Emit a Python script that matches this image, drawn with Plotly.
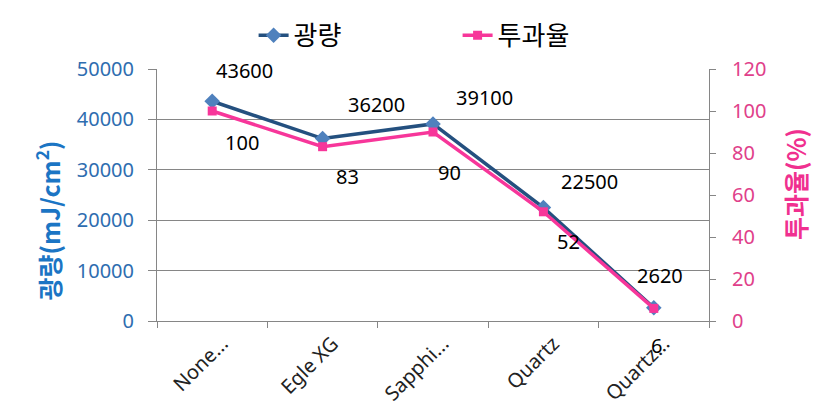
import plotly.graph_objects as go

categories = ["None...", "Egle XG", "Sapphi...", "Quartz", "Quartz..."]
light = [43600, 36200, 39100, 22500, 2620]
trans = [100, 83, 90, 52, 6]
light_label_shift = [(32, 31), (54, 34), (51, 26), (46, 26), (6, 32)]
trans_label_shift = [(30, -31), (25, -30), (16, -40), (25, -30), (3, -37)]

FONT = "Noto Sans CJK KR"
NUMFONT = "Noto Sans, Noto Sans CJK KR"
BLUE_LINE = "#24507F"
BLUE_MARK = "#4F81BD"
PINK = "#F7369A"

fig = go.Figure()
fig.add_trace(go.Scatter(
    x=categories, y=light, name="광량", mode="lines+markers",
    line=dict(color=BLUE_LINE, width=3.5),
    marker=dict(symbol="diamond", size=12, color=BLUE_MARK),
    yaxis="y"))
fig.add_trace(go.Scatter(
    x=categories, y=trans, name="투과율", mode="lines+markers",
    line=dict(color=PINK, width=3.5),
    marker=dict(symbol="square", size=9, color=PINK),
    yaxis="y2"))

for c, v, (dx, dy) in zip(categories, light, light_label_shift):
    fig.add_annotation(x=c, y=v, xref="x", yref="y", text=str(v), showarrow=False,
                       xshift=dx, yshift=dy, font=dict(family=NUMFONT, size=20, color="#000"))
for c, v, (dx, dy) in zip(categories, trans, trans_label_shift):
    fig.add_annotation(x=c, y=v, xref="x", yref="y2", text=str(v), showarrow=False,
                       xshift=dx, yshift=dy, font=dict(family=NUMFONT, size=20, color="#000"))

# axis titles
fig.add_annotation(x=-0.197, y=0.40, xref="paper", yref="paper", text="광량(mJ/cm<sup>2</sup>)",
                   textangle=-90, showarrow=False, xanchor="center", yanchor="middle",
                   font=dict(family=FONT, size=25, color="#1B75C4", weight="bold"))
fig.add_annotation(x=1.156, y=0.544, xref="paper", yref="paper", text="투과율(%)",
                   textangle=-90, showarrow=False, xanchor="center", yanchor="middle",
                   font=dict(family=FONT, size=25, color="#F0308F", weight="bold"))

fig.update_layout(
    width=830, height=418,
    margin=dict(l=157, r=121, t=69, b=97),
    paper_bgcolor="white", plot_bgcolor="white",
    font=dict(family=FONT),
    showlegend=True,
    legend=dict(orientation="h", x=0.175, xanchor="left", y=1.04, yanchor="bottom",
                entrywidth=159, entrywidthmode="pixels",
                font=dict(family=FONT, size=26, color="#000"), itemwidth=30),
    xaxis=dict(
        type="category", showline=True, linecolor="#868686", linewidth=1,
        ticks="outside", ticklen=6, tickcolor="#868686", tickson="boundaries",
        tickangle=-45, tickfont=dict(family=NUMFONT, size=20, color="#222"),
        ticklabelstandoff=2, ticklabelshift=10, automargin=False,
        showgrid=False, range=[-0.5, 4.5]),
    yaxis=dict(
        range=[0, 50000], dtick=10000, tickformat="d", showline=True, linecolor="#868686",
        ticks="outside", ticklen=8, tickcolor="#868686", ticklabelstandoff=10,
        showgrid=True, gridcolor="#868686", gridwidth=1, zeroline=False, automargin=False,
        tickfont=dict(family=NUMFONT, size=20, color="#2E6DB0")),
    yaxis2=dict(
        range=[0, 120], dtick=20, overlaying="y", side="right", showline=True,
        linecolor="#868686", ticks="outside", ticklen=6, tickcolor="#868686",
        ticklabelstandoff=12, automargin=False,
        showgrid=False, zeroline=False,
        tickfont=dict(family=NUMFONT, size=20, color="#E0408A")),
)

fig.write_html("out.html")
